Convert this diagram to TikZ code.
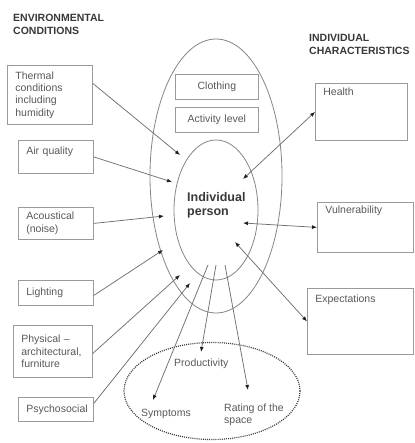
\documentclass[tikz,border=0pt]{standalone}
\usepackage{fontspec}
\setmainfont{Liberation Sans}
\usetikzlibrary{arrows.meta,shapes.geometric}
\definecolor{boxline}{HTML}{9A9A9A}
\definecolor{ringline}{HTML}{858585}
\definecolor{txt}{HTML}{585858}
\definecolor{head}{HTML}{383838}
\definecolor{linkline}{HTML}{707070}
\definecolor{tipcol}{HTML}{202020}

\begin{document}
\begin{tikzpicture}[x=1pt,y=-1pt,
  boxtext/.style={text=txt, font=\fontsize{10.5}{12.3}\selectfont},
  factor/.style={boxtext, draw=boxline, line width=0.8pt, inner xsep=8pt,
    inner ysep=0pt, align=left, anchor=north west},
  header/.style={text=head, font=\fontsize{10.5}{13.4}\selectfont\bfseries,
    align=left, inner sep=0pt, anchor=base west},
  outcome/.style={boxtext, align=left, inner sep=0pt, anchor=base west},
  ring/.style={ellipse, draw=ringline, line width=0.8pt, inner sep=0pt},
  link/.style={draw=linkline, line width=0.75pt,
    -{Latex[length=5pt,width=4pt,color=tipcol]}},
  twoway/.style={draw=linkline, line width=0.75pt,
    {Latex[length=5pt,width=4pt,color=tipcol]}-{Latex[length=5pt,width=4pt,color=tipcol]}},
]
\useasboundingbox (0,0) rectangle (414,443);

% headings (anchored on the baseline of their last line)
\node[header] (envhead) at (13,35) {ENVIRONMENTAL\\CONDITIONS};
\node[header] (indhead) at (309,55) {INDIVIDUAL\\CHARACTERISTICS};

% rings around the person and the outcome cloud
\node[ring, minimum width=132pt, minimum height=274pt] (outer) at (216,176) {};
\node[ring, minimum width=84pt, minimum height=140pt] (inner) at (216,210) {};
\node[ellipse, draw=head, line width=1.2pt, dash pattern=on 1pt off 1.1pt,
      minimum width=176pt, minimum height=97pt, inner sep=0pt] (cloud) at (212,391) {};

\node[text=head, font=\fontsize{12.5}{14}\selectfont\bfseries, align=left,
      inner sep=0pt, anchor=base west] (person) at (187,215) {Individual\\person};

% environmental conditions
\node[factor, minimum width=85pt, minimum height=59pt, text width=69pt] (thermal) at (7,65)
  {Thermal\\conditions\\including\\humidity};
\node[factor, minimum width=75pt, text width=59pt, text height=14.5pt, text depth=18.5pt] (air) at (18,140)
  {Air quality};
\node[factor, minimum width=75pt, minimum height=32pt, text width=59pt] (acoustic) at (18,207)
  {Acoustical\\(noise)};
\node[factor, minimum width=75pt, minimum height=25pt, text width=59pt] (lighting) at (18,280)
  {Lighting};
\node[factor, minimum width=79pt, minimum height=52pt, text width=63pt] (physical) at (13,325)
  {Physical --\\architectural,\\furniture};
\node[factor, minimum width=75pt, minimum height=24pt, text width=59pt] (psycho) at (18,397)
  {Psychosocial};

% personal factors inside the outer ring
\node[factor, align=center, minimum width=83pt, minimum height=25pt, text width=67pt] (clothing) at (175,74)
  {Clothing};
\node[factor, align=center, minimum width=83pt, minimum height=25pt, text width=67pt] (activity) at (175,107)
  {Activity level};

% individual characteristics
\node[factor, minimum width=92pt, text width=76pt, text height=12.5pt, text depth=44.5pt] (health) at (315,83)
  {Health};
\node[factor, minimum width=96pt, text width=80pt, text height=11.5pt, text depth=38.5pt] (vulner) at (317,202)
  {Vulnerability};
\node[factor, minimum width=106pt, text width=90pt, text height=14.5pt, text depth=51.5pt] (expect) at (307,288)
  {Expectations};

% outcomes
\node[outcome] (productivity) at (174,366) {Productivity};
\node[outcome] (symptoms) at (141,416) {Symptoms};
\node[outcome, font=\fontsize{10.5}{12}\selectfont] (rating) at (224,423) {Rating of the\\space};

% arrow ends in the rings
\coordinate (inThermal) at (180,155);
\coordinate (inAir) at (172,182);
\coordinate (inAcoustic) at (164,216);
\coordinate (inLighting) at (163,250);
\coordinate (inPhysical) at (180,275);
\coordinate (inPsycho) at (190,283);
\coordinate (inHealth) at (243,179);
\coordinate (inVulner) at (243,223);
\coordinate (inExpect) at (235,242);
\coordinate (outSymptoms) at (208,265);
\coordinate (outProductivity) at (216,265);
\coordinate (outRating) at (225,265);
\coordinate (tipSymptoms) at (153,400);
\coordinate (tipProductivity) at (201,352);
\coordinate (tipRating) at (248,390);

% environment acts on the person
\draw[link] ([yshift=11.5pt]thermal.east) -- (inThermal);
\draw[link] (air.east) -- (inAir);
\draw[link] (acoustic.east) -- (inAcoustic);
\draw[link] ([yshift=-2.5pt]lighting.east) -- (inLighting);
\draw[link] ([yshift=-2pt]physical.east) -- (inPhysical);
\draw[link] ([yshift=6pt]psycho.east) -- (inPsycho);

% person and characteristics interact
\draw[twoway] (inHealth) -- (health.west);
\draw[twoway] (inVulner) -- (vulner.west);
\draw[twoway] (inExpect) -- (expect.west);

% outcomes
\draw[link] (outSymptoms) -- (tipSymptoms);
\draw[link] (outProductivity) -- (tipProductivity);
\draw[link] (outRating) -- (tipRating);
\end{tikzpicture}
\end{document}
